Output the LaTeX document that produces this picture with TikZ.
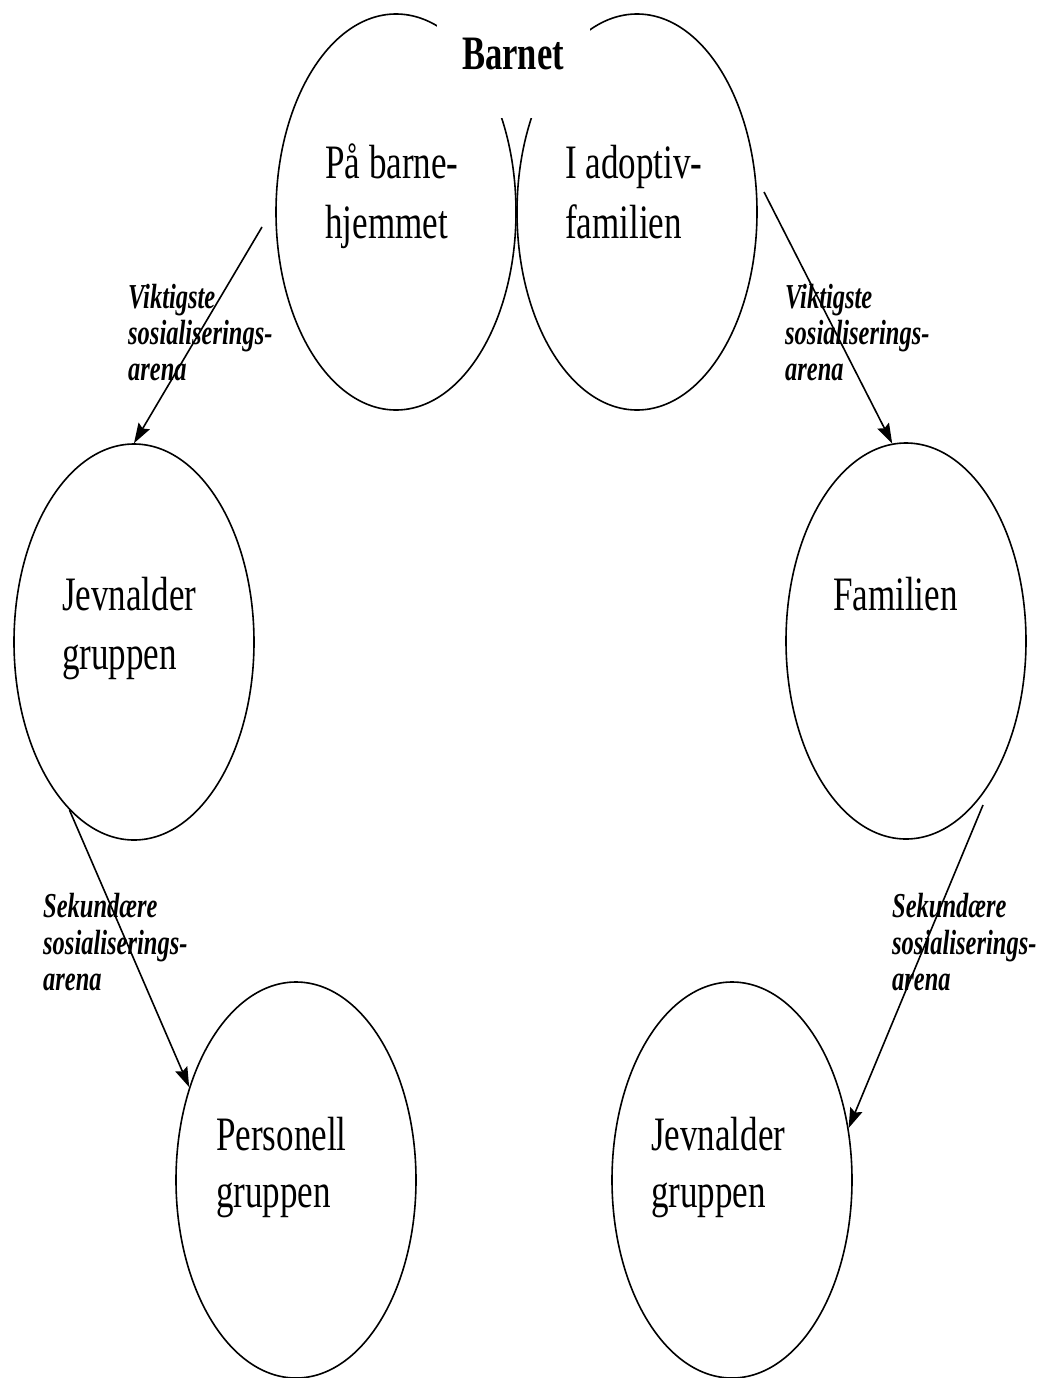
\documentclass[tikz,border=0pt]{standalone}
\usepackage{fontspec}
\setmainfont{Liberation Serif}
\newfontfamily\elfont[FakeStretch=0.73]{Liberation Serif}
\newfontfamily\lblfont[FakeStretch=0.7]{Liberation Serif}
\newfontfamily\titfont[FakeStretch=0.72]{Liberation Serif}
\usetikzlibrary{shapes.geometric,arrows.meta}
\begin{document}
\begin{tikzpicture}[x=1pt,y=-1pt,
  oval/.style={ellipse,draw=black,line width=1.6pt,minimum width=240pt,minimum height=396pt,inner sep=0pt},
  intext/.style={anchor=base west,inner sep=0pt,font=\elfont\fontsize{48}{58}\selectfont},
  lbl/.style={anchor=base west,inner sep=0pt,font=\lblfont\bfseries\itshape\fontsize{35}{37}\selectfont},
  conn/.style={line width=1.6pt,-{Stealth[length=20pt,width=13pt,inset=3pt]}}]
\useasboundingbox (0,0) rectangle (1051,1378);
% ellipses
\node[oval] (tl) at (396,212) {};
\node[oval] (tr) at (637,212) {};
\node[oval] (jl) at (134,642) {};
\node[oval] (fam) at (906,641) {};
\node[oval] (pers) at (296,1180) {};
\node[oval] (jr) at (732,1180) {};
% cover for title
\fill[white] (437,-2) rectangle (590,118);
\node[anchor=base,inner sep=0pt,font=\titfont\bfseries\fontsize{48}{50}\selectfont] (barnet) at (513,70) {Barnet};
% ellipse texts
\node[intext] (t1a) at (325,178) {På barne-};
\node[intext] (t1b) at (325,238) {hjemmet};
\node[intext] (t2a) at (565,178) {I adoptiv-};
\node[intext] (t2b) at (565,238) {familien};
\node[intext] (t3a) at (62,610) {Jevnalder};
\node[intext] (t3b) at (62,669) {gruppen};
\node[intext] (t4a) at (833,610) {Familien};
\node[intext] (t5a) at (216,1150) {Personell};
\node[intext] (t5b) at (216,1207) {gruppen};
\node[intext] (t6a) at (651,1150) {Jevnalder};
\node[intext] (t6b) at (651,1207) {gruppen};
% labels
\node[lbl] (l1a) at (128,308) {Viktigste};
\node[lbl] (l1b) at (128,344) {sosialiserings-};
\node[lbl] (l1c) at (128,380) {arena};
\node[lbl] (l2a) at (785,308) {Viktigste};
\node[lbl] (l2b) at (785,344) {sosialiserings-};
\node[lbl] (l2c) at (785,380) {arena};
\node[lbl] (l3a) at (43,917) {Sekundære};
\node[lbl] (l3b) at (43,954) {sosialiserings-};
\node[lbl] (l3c) at (43,990) {arena};
\node[lbl] (l4a) at (892,917) {Sekundære};
\node[lbl] (l4b) at (892,954) {sosialiserings-};
\node[lbl] (l4c) at (892,990) {arena};
% arrow start points
\coordinate (s1) at (262,227);
\coordinate (s2) at (764,192);
\coordinate (s4) at (983,805);
% connectors
\draw[conn] (s1) -- (jl.north);
\draw[conn] (s2) -- (fam.94);
\draw[conn] (jl.249) -- (pers.139);
\draw[conn] (s4) -- (jr.24);
\end{tikzpicture}
\end{document}
